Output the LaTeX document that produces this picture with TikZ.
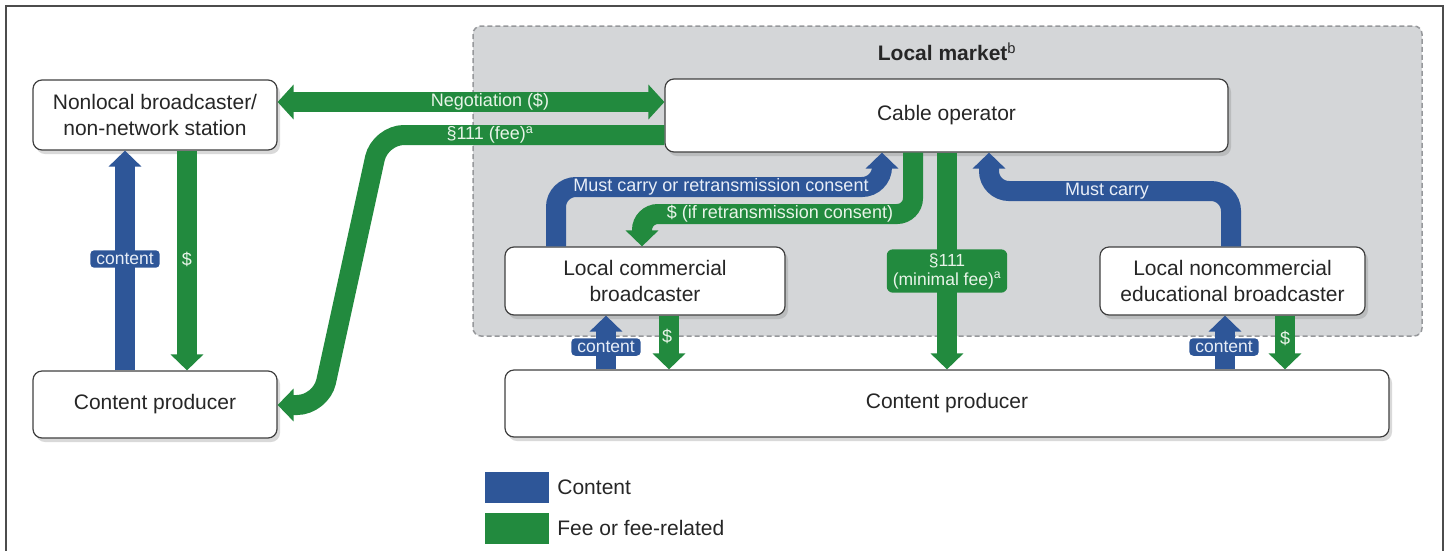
\documentclass[tikz,border=0pt]{standalone}
\usepackage{fontspec}
\setmainfont{Liberation Sans}
\usetikzlibrary{arrows.meta,shadows,calc}
\definecolor{cblue}{RGB}{46,86,152}
\definecolor{cgreen}{RGB}{34,138,62}
\definecolor{mktgray}{RGB}{212,214,216}
\definecolor{mktline}{RGB}{150,152,155}
\definecolor{lblg}{RGB}{232,244,232}
\definecolor{lblb}{RGB}{232,238,248}
\tikzset{
  box/.style={draw=black!75, line width=1.2pt, fill=white, rounded corners=9pt,
    align=center, font=\fontsize{21}{26}\selectfont, text=black!85, inner sep=2pt,
    drop shadow={opacity=0.3, shadow xshift=3pt, shadow yshift=-4pt}},
  flow/.style={line width=20pt, -{Triangle[width=32pt,length=16pt]}},
  bflow/.style={flow, draw=cblue},
  gflow/.style={flow, draw=cgreen},
  glbl/.style={text=lblg, font=\fontsize{18}{20}\selectfont, inner sep=0pt},
  blbl/.style={text=lblb, font=\fontsize{18}{20}\selectfont, inner sep=0pt},
  btag/.style={fill=cblue, rounded corners=4pt, text=lblb, font=\fontsize{17.5}{20}\selectfont,
    inner xsep=6pt, inner ysep=3pt},
  gtag/.style={fill=cgreen, rounded corners=6pt, text=lblg, font=\fontsize{17.5}{19}\selectfont,
    inner xsep=6pt, inner ysep=4pt, align=center},
  legbox/.style={minimum width=64pt, minimum height=31pt, inner sep=0pt},
  legtext/.style={anchor=west, font=\fontsize{21}{24}\selectfont, text=black!85, inner sep=0pt}
}
\begin{document}
\begin{tikzpicture}[x=1pt,y=-1pt]
\useasboundingbox (0,0) rectangle (1449,550);
% frame
\draw[black!70, line width=2pt] (6,560) -- (6,6) -- (1443,6) -- (1443,560);
% local market region
\draw[fill=mktgray, draw=mktline, line width=1.5pt, dash pattern=on 5pt off 3pt, rounded corners=8pt]
  (473,26) rectangle (1422,336);
\node[font=\bfseries\fontsize{21}{24}\selectfont, text=black!85] (mkt) at (947,52) {Local market\textsuperscript{\mdseries b}};

% boxes
\node[box, minimum width=244pt, minimum height=70pt] (nl) at (155,115) {Nonlocal broadcaster/\\non-network station};
\node[box, minimum width=563pt, minimum height=73pt] (cab) at (946.5,115.5) {Cable operator};
\node[box, minimum width=244pt, minimum height=67pt] (cpl) at (155,404.5) {Content producer};
\node[box, minimum width=280pt, minimum height=68pt] (lcb) at (645,281) {Local commercial\\broadcaster};
\node[box, minimum width=265pt, minimum height=68pt] (lnb) at (1232.5,281) {Local noncommercial\\educational broadcaster};
\node[box, minimum width=884pt, minimum height=67pt] (cpr) at (947,403.5) {Content producer};

% negotiation
\draw[gflow, {Triangle[width=34pt,length=16pt]}-{Triangle[width=34pt,length=16pt]}]
  (nl.east |- 0,102) -- (cab.west |- 0,102);
\node[glbl] (negl) at (490,102) {Negotiation (\$)};
% section 111 fee
\draw[gflow, rounded corners=24pt] (cab.west |- 0,135) -- (380,135) -- (321,405) -- (cpl.east |- 0,405);
\node[glbl] (feel) at (490,135) {§111 (fee)\textsuperscript{a}};

% left vertical pair
\draw[bflow] ([xshift=-30pt]cpl.north) -- ([xshift=-30pt]nl.south);
\node[btag] (c1) at (125,259) {content};
\draw[gflow] ([xshift=32pt]nl.south) -- ([xshift=32pt]cpl.north);
\node[glbl] (d1) at (187,259) {\$};

% must carry or retransmission consent
\draw[bflow, rounded corners=20pt] (lcb.north -| 556,0) -- (556,187) -- (882,187) -- (cab.south -| 882,0);
\node[blbl] (mcr) at (721,187) {Must carry or retransmission consent};
% $ if retransmission consent
\draw[gflow, rounded corners=16pt] (cab.south -| 913,0) -- (913,214) -- (642,214) -- (lcb.north -| 642,0);
\node[glbl] (rcl) at (780,214) {\$ (if retransmission consent)};

% section 111 minimal fee
\draw[gflow] (cab.south -| 947,0) -- (cpr.north -| 947,0);
\node[gtag] (mfee) at (947,271) {§111\\(minimal fee)\textsuperscript{a}};

% must carry
\draw[bflow, rounded corners=20pt] (lnb.north -| 1231,0) -- (1231,191) -- (989,191) -- (cab.south -| 989,0);
\node[blbl] (mcl) at (1107,191) {Must carry};

% local commercial <-> content producer
\draw[bflow] (cpr.north -| 606,0) -- (lcb.south -| 606,0);
\node[btag] (c2) at (606,347) {content};
\draw[gflow] (lcb.south -| 669,0) -- (cpr.north -| 669,0);
\node[glbl] (d2) at (667,336) {\$};

% local noncommercial <-> content producer
\draw[bflow] (cpr.north -| 1225,0) -- (lnb.south -| 1225,0);
\node[btag] (c3) at (1224,347) {content};
\draw[gflow] (lnb.south -| 1285,0) -- (cpr.north -| 1285,0);
\node[glbl] (d3) at (1285,338) {\$};

% legend
\node[legbox, fill=cblue] (lgb) at (517,487.5) {};
\node[legbox, fill=cgreen] (lgg) at (517,528) {};
\node[legtext] (lgbt) at ([xshift=8pt]lgb.east) {Content};
\node[legtext] (lggt) at ([xshift=8pt]lgg.east) {Fee or fee-related};
\end{tikzpicture}
\end{document}
